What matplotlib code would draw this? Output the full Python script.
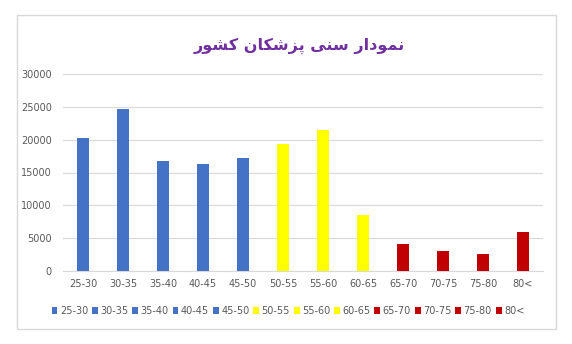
import matplotlib
matplotlib.use('Agg')
import matplotlib.pyplot as plt
from matplotlib.patches import Rectangle

# data
age_groups = ['25-30', '30-35', '35-40', '40-45', '45-50', '50-55',
              '55-60', '60-65', '65-70', '70-75', '75-80', '80<']
doctors = [20270, 24600, 16720, 16300, 17180, 19270,
           21450, 8490, 4170, 3000, 2590, 5900]
title_fa = 'نمودار سنی پزشکان کشور'

bar_colors = ['#4472C4'] * 5 + ['#FFFF00'] * 3 + ['#C00000'] * 4


## matplotlib has no arabic shaping, so do it by hand for the letters we need
FORMS = {
    'ا': ('\uFE8D', '\uFE8E', None, None),
    'د': ('\uFEA9', '\uFEAA', None, None),
    'ر': ('\uFEAD', '\uFEAE', None, None),
    'ز': ('\uFEAF', '\uFEB0', None, None),
    'و': ('\uFEED', '\uFEEE', None, None),
    'ن': ('\uFEE5', '\uFEE6', '\uFEE7', '\uFEE8'),
    'م': ('\uFEE1', '\uFEE2', '\uFEE3', '\uFEE4'),
    'س': ('\uFEB1', '\uFEB2', '\uFEB3', '\uFEB4'),
    'ش': ('\uFEB5', '\uFEB6', '\uFEB7', '\uFEB8'),
    'ی': ('\uFBFC', '\uFBFD', '\uFBFE', '\uFBFF'),
    'پ': ('\uFB56', '\uFB57', '\uFB58', '\uFB59'),
    'ک': ('\uFB8E', '\uFB8F', '\uFB90', '\uFB91'),
}


def shape_fa(txt):
    out = []
    for i, ch in enumerate(txt):
        if ch not in FORMS:
            out.append(ch)
            continue
        prev = txt[i - 1] if i > 0 else ''
        nxt = txt[i + 1] if i < len(txt) - 1 else ''
        j_prev = prev in FORMS and FORMS[prev][2] is not None
        j_next = FORMS[ch][2] is not None and nxt in FORMS
        iso, fin, ini, med = FORMS[ch]
        if j_prev and j_next:
            out.append(med)
        elif j_prev:
            out.append(fin)
        elif j_next:
            out.append(ini)
        else:
            out.append(iso)
    # visual order, right to left
    return ''.join(out)[::-1]


W, H = 572, 344
fig = plt.figure(figsize=(W / 100, H / 100), dpi=100)

# chart frame
fig.patches.append(Rectangle((17 / W, 1 - 329 / H), (556 - 17) / W, (329 - 15) / H,
                             transform=fig.transFigure, fill=False,
                             edgecolor='#D9D9D9', linewidth=1))

ax = fig.add_axes([63 / W, 1 - 271 / H, (543 - 63) / W, (271 - 74) / H])
x = range(len(age_groups))
for i in x:
    ax.bar(i, doctors[i], width=0.3, color=bar_colors[i], label=age_groups[i], zorder=3)

ax.set_xlim(-0.5, len(age_groups) - 0.5)
ax.set_ylim(0, 30000)
ax.set_yticks(range(0, 30001, 5000))
ax.set_xticks(list(x))
ax.set_xticklabels(age_groups)
ax.grid(axis='y', color='#D9D9D9', linewidth=0.8, zorder=0)
for s in ['top', 'right', 'left']:
    ax.spines[s].set_visible(False)
ax.spines['bottom'].set_color('#D9D9D9')
ax.tick_params(length=0, labelsize=7, labelcolor='#595959')
ax.tick_params(axis='y', pad=8)
ax.tick_params(axis='x', pad=6)

fig.text(299 / W, 1 - 46 / H, shape_fa(title_fa), ha='center', va='center',
         fontsize=11.5, fontweight='bold', color='#7030A0', family=['DejaVu Sans'])

fig.legend(loc='center', bbox_to_anchor=(288 / W, 1 - 311 / H), ncol=12,
           frameon=False, fontsize=7, handlelength=0.6, handleheight=0.6,
           handletextpad=0.25, columnspacing=0.4, labelcolor='#595959',
           borderpad=0)

fig.savefig('out.png', dpi=100)
